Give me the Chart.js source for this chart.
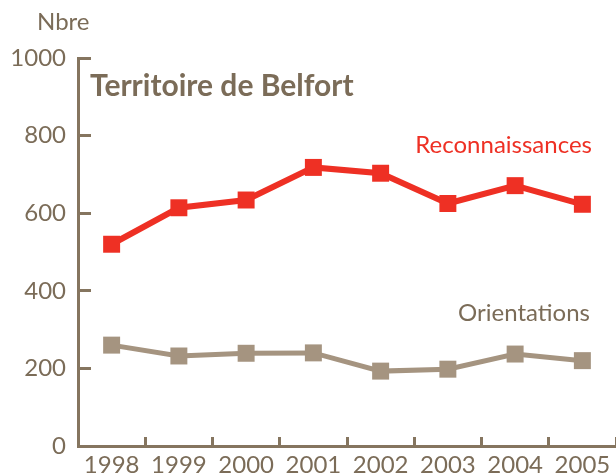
<!DOCTYPE html>
<html>
<head>
<meta charset="utf-8">
<script src="https://cdn.jsdelivr.net/npm/chart.js@4"></script>
<style>
  html, body { margin: 0; padding: 0; background: #ffffff; }
  #wrap { width: 616px; height: 474px; }
</style>
</head>
<body>
<div id="wrap"><canvas id="chart" width="616" height="474"></canvas></div>
<script>
// data
const years = ['1998', '1999', '2000', '2001', '2002', '2003', '2004', '2005'];
const reconnaissances = [520, 614, 634, 718, 703, 625, 671, 623];
const orientations = [260, 232, 239, 240, 193, 198, 237, 220];
const yTicks = [0, 200, 400, 600, 800, 1000];

const brown = '#85755f';
const textBrown = '#7b6c58';
const grey = '#a59480';
const red = '#ee3024';
const font = 'Lato, "DejaVu Sans", sans-serif';

// titles and series names written on the canvas
const labelsPlugin = {
    id: 'labels',
    afterDraw(chart) {
        const ctx = chart.ctx;
        ctx.save();
        ctx.textBaseline = 'alphabetic';
        ctx.fillStyle = textBrown;
        ctx.font = '24px ' + font;
        ctx.textAlign = 'left';
        ctx.fillText('Nbre', 37, 30);
        ctx.font = 'bold 30px ' + font;
        ctx.fillText('Territoire de Belfort', 90, 96);
        ctx.font = '24px ' + font;
        ctx.textAlign = 'right';
        ctx.fillStyle = red;
        ctx.fillText('Reconnaissances', 592, 153);
        ctx.fillStyle = textBrown;
        ctx.fillText('Orientations', 590, 321);
        ctx.restore();
    }
};

new Chart(document.getElementById('chart'), {
    type: 'line',
    data: {
        labels: years,
        datasets: [{
            label: 'Reconnaissances',
            data: reconnaissances,
            borderColor: red,
            backgroundColor: red,
            borderWidth: 6,
            pointStyle: 'rect',
            pointRadius: 12,
            pointBorderWidth: 0,
            tension: 0
        }, {
            label: 'Orientations',
            data: orientations,
            borderColor: grey,
            backgroundColor: grey,
            borderWidth: 5,
            pointStyle: 'rect',
            pointRadius: 12,
            pointBorderWidth: 0,
            tension: 0
        }]
    },
    options: {
        responsive: false,
        animation: false,
        layout: {
            autoPadding: false,
            padding: { top: 58, right: 0, bottom: 0, left: 0 }
        },
        plugins: {
            legend: { display: false },
            tooltip: { enabled: false }
        },
        scales: {
            x: {
                offset: true,
                grid: {
                    offset: true,
                    drawOnChartArea: false,
                    tickLength: -9,
                    tickWidth: 3,
                    tickColor: brown
                },
                border: { color: brown, width: 3 },
                ticks: {
                    color: textBrown,
                    font: { size: 24, family: font },
                    padding: 14,
                    maxRotation: 0,
                    autoSkip: false
                },
                afterFit(scale) {
                    scale.height = 28;
                    scale.paddingLeft = 0;
                    scale.paddingRight = 0;
                }
            },
            y: {
                min: 0,
                max: 1000,
                afterBuildTicks(scale) {
                    scale.ticks = yTicks.map(v => ({ value: v }));
                },
                grid: {
                    drawOnChartArea: false,
                    tickLength: -13,
                    tickWidth: 3,
                    tickColor: brown
                },
                border: { color: brown, width: 3 },
                ticks: {
                    color: textBrown,
                    font: { size: 24, family: font },
                    padding: 25,
                    callback: v => String(v)
                },
                afterFit(scale) {
                    scale.width = 78;
                    scale.paddingTop = 0;
                    scale.paddingBottom = 0;
                }
            }
        }
    },
    plugins: [labelsPlugin]
});
</script>
</body>
</html>
